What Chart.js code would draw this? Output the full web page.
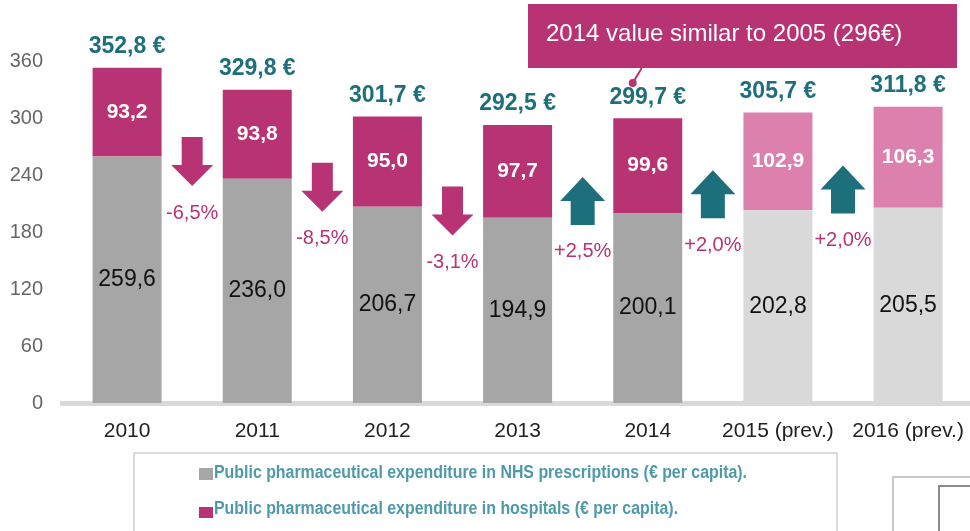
<!DOCTYPE html>
<html>
<head>
<meta charset="utf-8">
<script src="https://cdn.jsdelivr.net/npm/chart.js@4.4.1/dist/chart.umd.min.js"></script>
<style>
  html, body { margin: 0; padding: 0; background: #fff; overflow: hidden; }
  canvas { display: block; }
</style>
</head>
<body>
<canvas id="pharma-chart" width="980" height="531"></canvas>
<script>
// values
var years = ['2010', '2011', '2012', '2013', '2014', '2015 (prev.)', '2016 (prev.)'];
var nhsValues = [259.6, 236.0, 206.7, 194.9, 200.1, 202.8, 205.5];
var hospitalValues = [93.2, 93.8, 95.0, 97.7, 99.6, 102.9, 106.3];
var totalValues = [352.8, 329.8, 301.7, 292.5, 299.7, 305.7, 311.8];
var changeLabels = ['-6,5%', '-8,5%', '-3,1%', '+2,5%', '+2,0%', '+2,0%'];
var legendLabels = [
  'Public pharmaceutical expenditure in NHS prescriptions (€ per capita).',
  'Public pharmaceutical expenditure in hospitals (€ per capita).'
];
var calloutText = '2014 value similar to 2005 (296€)';

var GRAY = '#a6a6a6';
var GRAY_LIGHT = '#d9d9d9';
var MAGENTA = '#b83373';
var PINK = '#dc80ae';
var TEAL = '#1d6f7b';
var FONT = '"Liberation Sans", Arial, Helvetica, sans-serif';

function fmt(v) {
  return v.toFixed(1).replace('.', ',');
}

// forecast years get the lighter colours
var nhsColors = years.map(function (y) { return y.indexOf('prev') > -1 ? GRAY_LIGHT : GRAY; });
var hospColors = years.map(function (y) { return y.indexOf('prev') > -1 ? PINK : MAGENTA; });

// arrow tops, in axis units
var arrowAt = [280, 253, 228, 238, 245, 250];

function drawArrow(ctx, cx, top, down, color) {
  ctx.fillStyle = color;
  ctx.beginPath();
  if (down) {
    // shaft 21 wide, head 42 wide, 49 tall
    ctx.moveTo(cx - 10.5, top);
    ctx.lineTo(cx + 10.5, top);
    ctx.lineTo(cx + 10.5, top + 28);
    ctx.lineTo(cx + 21, top + 28);
    ctx.lineTo(cx, top + 49);
    ctx.lineTo(cx - 21, top + 28);
    ctx.lineTo(cx - 10.5, top + 28);
  } else {
    ctx.moveTo(cx, top);
    ctx.lineTo(cx + 22.5, top + 24);
    ctx.lineTo(cx + 12, top + 24);
    ctx.lineTo(cx + 12, top + 48);
    ctx.lineTo(cx - 12, top + 48);
    ctx.lineTo(cx - 12, top + 24);
    ctx.lineTo(cx - 22.5, top + 24);
  }
  ctx.closePath();
  ctx.fill();
}

var labelsPlugin = {
  id: 'barLabels',
  afterDatasetsDraw: function (chart) {
    var ctx = chart.ctx;
    var yScale = chart.scales.y;
    var nhsMeta = chart.getDatasetMeta(0);
    var hospMeta = chart.getDatasetMeta(1);
    ctx.save();
    ctx.textAlign = 'center';
    ctx.textBaseline = 'middle';

    nhsMeta.data.forEach(function (bar, i) {
      ctx.fillStyle = '#111';
      ctx.font = '23px ' + FONT;
      ctx.fillText(fmt(nhsValues[i]), bar.x, (bar.y + bar.base) / 2);
    });

    hospMeta.data.forEach(function (bar, i) {
      ctx.fillStyle = '#fff';
      ctx.font = 'bold 21px ' + FONT;
      ctx.fillText(fmt(hospitalValues[i]), bar.x, (bar.y + bar.base) / 2);
      ctx.fillStyle = TEAL;
      ctx.font = 'bold 23px ' + FONT;
      ctx.fillText(fmt(totalValues[i]) + ' €', bar.x, bar.y - 21);
    });

    // arrows between bars
    changeLabels.forEach(function (lbl, i) {
      var a = hospMeta.data[i];
      var b = hospMeta.data[i + 1];
      var cx = (a.x + b.x) / 2;
      var top = yScale.getPixelForValue(arrowAt[i]);
      var down = lbl.charAt(0) === '-';
      drawArrow(ctx, cx, top, down, down ? MAGENTA : TEAL);
      ctx.fillStyle = MAGENTA;
      ctx.font = '20px ' + FONT;
      ctx.fillText(lbl, cx, top + (down ? 49 : 48) + 27);
    });
    ctx.restore();
  },
  afterDraw: function (chart) {
    var ctx = chart.ctx;
    var hospMeta = chart.getDatasetMeta(1);
    var bar2014 = hospMeta.data[4];
    ctx.save();

    // callout
    var dotX = bar2014.x - 15;
    ctx.fillStyle = MAGENTA;
    ctx.fillRect(528, 4, 429, 64);
    ctx.strokeStyle = MAGENTA;
    ctx.lineWidth = 2;
    ctx.beginPath();
    ctx.moveTo(dotX + 9, 68);
    ctx.lineTo(dotX, 83);
    ctx.stroke();
    ctx.beginPath();
    ctx.arc(dotX, 83, 4, 0, Math.PI * 2);
    ctx.fill();
    ctx.fillStyle = '#fff';
    ctx.font = '24px ' + FONT;
    ctx.textAlign = 'left';
    ctx.textBaseline = 'middle';
    ctx.fillText(calloutText, 546, 34);

    // legend box
    ctx.strokeStyle = '#cfcfcf';
    ctx.lineWidth = 1.5;
    ctx.strokeRect(134, 453, 703, 100);
    var swatches = [GRAY, MAGENTA];
    var rowsY = [473, 509];
    ctx.font = 'bold 18px ' + FONT;
    var scaleX = 533 / ctx.measureText(legendLabels[0]).width;
    legendLabels.forEach(function (txt, i) {
      ctx.fillStyle = swatches[i];
      ctx.fillRect(199, i === 0 ? 468 : 507, 14, i === 0 ? 12 : 11);
      ctx.save();
      ctx.translate(214, rowsY[i]);
      ctx.scale(scaleX, 1);
      ctx.fillStyle = '#4e9aaa';
      ctx.fillText(txt, 0, 0);
      ctx.restore();
    });

    // edge of a second box, cut by the frame
    ctx.strokeStyle = '#c8c8c8';
    ctx.lineWidth = 2;
    ctx.strokeRect(893, 477, 200, 100);
    ctx.strokeStyle = '#8a8a8a';
    ctx.strokeRect(939, 486, 200, 100);
    ctx.restore();
  }
};

var chartCtx = document.getElementById('pharma-chart').getContext('2d');
var pharmaChart = new Chart(chartCtx, {
  type: 'bar',
  data: {
    labels: years,
    datasets: [{
      label: legendLabels[0],
      data: nhsValues,
      backgroundColor: nhsColors,
      barPercentage: 0.53,
      categoryPercentage: 1
    }, {
      label: legendLabels[1],
      data: hospitalValues,
      backgroundColor: hospColors,
      barPercentage: 0.53,
      categoryPercentage: 1
    }]
  },
  options: {
    responsive: false,
    animation: false,
    layout: {
      padding: { top: 61, left: 10, right: 1, bottom: 87 }
    },
    plugins: {
      legend: { display: false },
      tooltip: { enabled: false }
    },
    scales: {
      x: {
        stacked: true,
        grid: { display: false, drawTicks: false },
        border: { display: true, color: GRAY_LIGHT, width: 5 },
        ticks: {
          color: '#222',
          padding: 16,
          maxRotation: 0,
          font: { family: FONT, size: 21 }
        },
        afterFit: function (scale) { scale.height = 41; }
      },
      y: {
        stacked: true,
        min: 0,
        max: 360,
        grid: { display: false, drawTicks: false },
        border: { display: false },
        ticks: {
          stepSize: 60,
          color: '#666',
          padding: 19,
          font: { family: FONT, size: 20 }
        },
        afterFit: function (scale) { scale.width = 52; }
      }
    }
  },
  plugins: [labelsPlugin]
});
</script>
</body>
</html>
